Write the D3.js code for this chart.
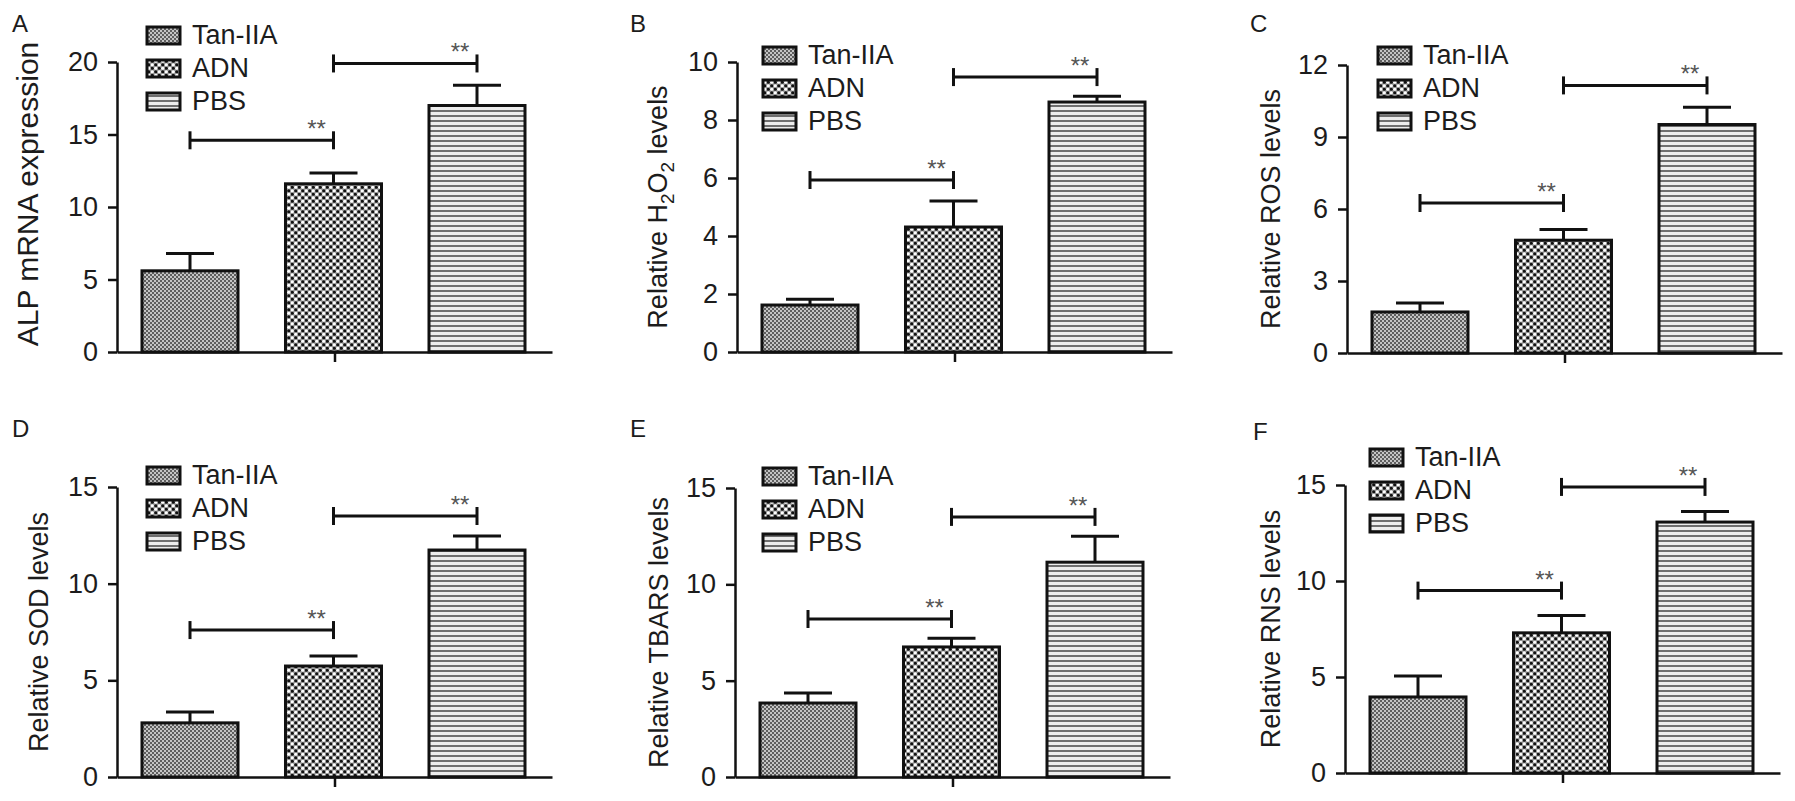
<!DOCTYPE html>
<html><head><meta charset="utf-8">
<script src="https://cdn.jsdelivr.net/npm/d3@7"></script>
<style>
body{margin:0;background:#fff}
svg{display:block}
text{font-family:"Liberation Sans",Arial,sans-serif;fill:#1c1c1c}
</style>
</head><body>
<svg id="c" width="1795" height="801"></svg>
<script>
// ---------- data ----------
const panelLetters = ["A","B","C","D","E","F"];
const groups = ["Tan-IIA","ADN","PBS"];
const yTitles = ["ALP mRNA expression","Relative H2O2 levels","Relative ROS levels",
                 "Relative SOD levels","Relative TBARS levels","Relative RNS levels"];
const yMax = [20,10,12,15,15,15];
const yTicks = [[0,5,10,15,20],[0,2,4,6,8,10],[0,3,6,9,12],[0,5,10,15],[0,5,10,15],[0,5,10,15]];
const meansA = [5.6,11.6,17.0];
const meansB = [1.62,4.31,8.62];
const meansC = [1.71,4.7,9.52];
const meansD = [2.8,5.74,11.74];
const meansE = [3.84,6.75,11.15];
const meansF = [3.96,7.3,13.07];
const errA = [1.2,0.75,1.4];
const errB = [0.2,0.9,0.2];
const errC = [0.37,0.45,0.72];
const errD = [0.56,0.52,0.73];
const errE = [0.52,0.45,1.35];
const errF = [1.09,0.9,0.55];
const sigY = [[14.6,19.9],[5.93,9.48],[6.25,11.15],[7.6,13.5],[8.2,13.5],[9.5,14.9]];
const sigLabel = "**";
const means = [meansA,meansB,meansC,meansD,meansE,meansF];
const errs = [errA,errB,errC,errD,errE,errF];

// ---------- layout ----------
const layout = [
  {ax:117, top:62,  zero:352, lx:147,  ly:27,  tOff:79, tDy:-13, tFs:30, letter:[12,32]},
  {ax:737, top:62,  zero:352, lx:763,  ly:47,  tOff:70, tDy:0,   tFs:27, letter:[630,32]},
  {ax:1347,top:65,  zero:353, lx:1378, ly:47,  tOff:67, tDy:0,   tFs:27, letter:[1250,32]},
  {ax:117, top:487, zero:777, lx:147,  ly:467, tOff:69, tDy:0,   tFs:27, letter:[12,437]},
  {ax:735, top:488, zero:777, lx:763,  ly:468, tOff:67, tDy:0,   tFs:27, letter:[630,437]},
  {ax:1345,top:485, zero:773, lx:1370, ly:449, tOff:65, tDy:0,   tFs:27, letter:[1253,440]}
];

const svg = d3.select("#c");
const defs = svg.append("defs");

// Tan-IIA: fine grey checker
const p1 = defs.append("pattern").attr("id","pTan").attr("patternUnits","userSpaceOnUse")
  .attr("width",4).attr("height",4);
p1.append("rect").attr("width",4).attr("height",4).attr("fill","#c4c4c4");
p1.append("rect").attr("width",2).attr("height",2).attr("fill","#5e5e5e");
p1.append("rect").attr("x",2).attr("y",2).attr("width",2).attr("height",2).attr("fill","#5e5e5e");

// ADN: black / white dots on grey
const p2 = defs.append("pattern").attr("id","pADN").attr("patternUnits","userSpaceOnUse")
  .attr("width",7).attr("height",7);
p2.append("rect").attr("width",7).attr("height",7).attr("fill","#9a9a9a");
[[1.75,1.75,"#111"],[5.25,5.25,"#111"],[5.25,1.75,"#fff"],[1.75,5.25,"#fff"]].forEach(d=>{
  p2.append("circle").attr("cx",d[0]).attr("cy",d[1]).attr("r",1.6).attr("fill",d[2]);
});

// PBS: horizontal stripes
const p3 = defs.append("pattern").attr("id","pPBS").attr("patternUnits","userSpaceOnUse")
  .attr("width",5).attr("height",5);
p3.append("rect").attr("width",5).attr("height",5).attr("fill","#ececec");
p3.append("rect").attr("width",5).attr("height",2).attr("fill","#6e6e6e");

const fills = ["url(#pTan)","url(#pADN)","url(#pPBS)"];

panelLetters.forEach((L,i)=>{
  const c = layout[i];
  const g = svg.append("g");
  const y = d3.scaleLinear().domain([0,yMax[i]]).range([c.zero,c.top]);
  const x = d3.scaleBand().domain(groups).range([c.ax+25,c.ax+408]).paddingInner(0.331).paddingOuter(0);
  const xAxisScale = d3.scalePoint().domain(["grp"]).range([c.ax,c.ax+435]).padding(0.5);

  // panel letter
  g.append("text").attr("x",c.letter[0]).attr("y",c.letter[1]).attr("font-size",24).text(L);

  // bars
  g.selectAll("rect.bar").data(groups).join("rect").attr("class","bar")
    .attr("x",d=>x(d)).attr("width",x.bandwidth())
    .attr("y",(d,k)=>y(means[i][k])).attr("height",(d,k)=>c.zero-y(means[i][k]))
    .attr("fill",(d,k)=>fills[k]).attr("stroke","#111").attr("stroke-width",3);

  // error bars
  groups.forEach((d,k)=>{
    const cx = x(d)+x.bandwidth()/2;
    const yt = y(means[i][k]+errs[i][k]);
    g.append("line").attr("x1",cx).attr("x2",cx).attr("y1",y(means[i][k])).attr("y2",yt)
      .attr("stroke","#111").attr("stroke-width",3);
    g.append("line").attr("x1",cx-24).attr("x2",cx+24).attr("y1",yt).attr("y2",yt)
      .attr("stroke","#111").attr("stroke-width",3);
  });

  // significance brackets
  [[0,1],[1,2]].forEach((pr,s)=>{
    const x1 = x(groups[pr[0]])+x.bandwidth()/2;
    const x2 = x(groups[pr[1]])+x.bandwidth()/2;
    const yb = y(sigY[i][s]);
    const br = g.append("g").attr("stroke","#111").attr("stroke-width",3);
    br.append("line").attr("x1",x1).attr("x2",x2).attr("y1",yb).attr("y2",yb);
    br.append("line").attr("x1",x1).attr("x2",x1).attr("y1",yb-9).attr("y2",yb+9);
    br.append("line").attr("x1",x2).attr("x2",x2).attr("y1",yb-9).attr("y2",yb+9);
    g.append("text").attr("x",x2-17).attr("y",yb-3).attr("text-anchor","middle")
      .attr("font-size",24).style("fill","#555").text(sigLabel);
  });

  // y axis
  const ya = g.append("g").attr("transform",`translate(${c.ax},0)`)
    .call(d3.axisLeft(y).tickValues(yTicks[i]).tickSize(9).tickSizeOuter(0).tickPadding(10).tickFormat(d3.format("d")));
  ya.select(".domain").attr("stroke","#111").attr("stroke-width",2.5);
  ya.selectAll(".tick line").attr("stroke","#111").attr("stroke-width",2.5);
  ya.selectAll(".tick text").attr("font-size",27).attr("font-family","Liberation Sans, Arial, sans-serif").style("fill","#1c1c1c");

  // x axis
  const xa = g.append("g").attr("transform",`translate(0,${c.zero})`)
    .call(d3.axisBottom(xAxisScale).tickSize(10).tickSizeOuter(0).tickFormat(""));
  xa.select(".domain").attr("stroke","#111").attr("stroke-width",2.5);
  xa.selectAll(".tick line").attr("stroke","#111").attr("stroke-width",2.5);

  // y title
  const cy = (c.top+c.zero)/2 + c.tDy;
  const t = g.append("text").attr("transform",`translate(${c.ax-c.tOff},${cy}) rotate(-90)`)
    .attr("text-anchor","middle").attr("font-size",c.tFs);
  if (yTitles[i].indexOf("H2O2")>=0) {
    t.append("tspan").text("Relative H");
    t.append("tspan").attr("font-size",19).attr("dy",7).text("2");
    t.append("tspan").attr("dy",-7).text("O");
    t.append("tspan").attr("font-size",19).attr("dy",7).text("2");
    t.append("tspan").attr("dy",-7).text(" levels");
  } else {
    t.text(yTitles[i]);
  }

  // legend
  groups.forEach((d,k)=>{
    const yy = c.ly + k*33;
    g.append("rect").attr("x",c.lx).attr("y",yy).attr("width",33).attr("height",17)
      .attr("fill",fills[k]).attr("stroke","#111").attr("stroke-width",3);
    g.append("text").attr("x",c.lx+45).attr("y",yy+17).attr("font-size",27).text(d);
  });
});
</script>
</body></html>
